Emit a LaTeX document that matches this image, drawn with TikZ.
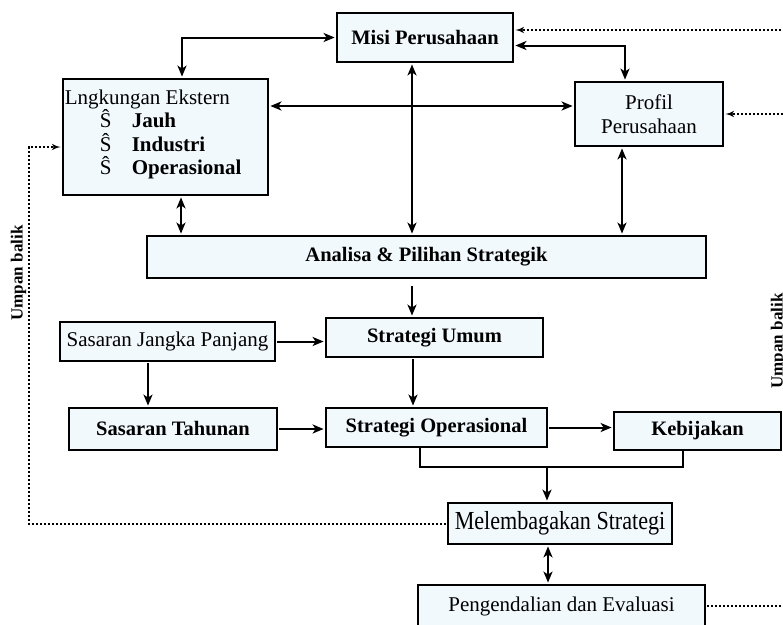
\documentclass[tikz,border=0pt]{standalone}
\usepackage{fontspec}
\setmainfont{Liberation Serif}
\usetikzlibrary{arrows,arrows.meta}
\definecolor{kotakbiru}{RGB}{242,249,253}
\newcommand{\tebal}{\fontsize{20.5}{23.5}\selectfont\bfseries}
\newcommand{\biasa}{\fontsize{21}{23.5}\selectfont}

\begin{document}
\begin{tikzpicture}[x=1pt,y=-1pt,>={Stealth[length=11pt,width=9pt,inset=3pt]},shorten >=1pt,shorten <=1pt,
  kotak/.style={draw,line width=2.8pt,fill=kotakbiru,inner sep=0pt,font=\tebal},
  panah/.style={line width=2pt},
  umpan/.style={dotted,line width=2pt}]
  \useasboundingbox (0,0) rectangle (783,624);
  \clip (0,0) rectangle (783,624);

  \node[kotak,minimum width=176pt,minimum height=49pt]  (misi)        at (425,37.5)  {Misi Perusahaan};
  \node[kotak,minimum width=205pt,minimum height=116pt] (lingkungan)  at (165.5,137) {};
  \node[kotak,minimum width=148pt,minimum height=64pt,align=center,font=\biasa] (profil) at (649,114) {Profil\\Perusahaan};
  \node[kotak,minimum width=559pt,minimum height=42pt]  (analisa)     at (426.5,257) {Analisa \& Pilihan Strategik};
  \node[kotak,minimum width=215pt,minimum height=39pt,font=\biasa] (sjp) at (167.5,341.5) {Sasaran Jangka Panjang};
  \node[kotak,minimum width=217pt,minimum height=39pt]  (umum)        at (434.5,337.5) {Strategi Umum};
  \node[kotak,minimum width=208pt,minimum height=42pt]  (tahunan)     at (173,429)   {Sasaran Tahunan};
  \node[kotak,minimum width=221pt,minimum height=39pt]  (operasional) at (436.5,427.5) {Strategi Operasional};
  \node[kotak,minimum width=167pt,minimum height=38pt]  (kebijakan)   at (697.5,431) {Kebijakan};
  \node[kotak,minimum width=224pt,minimum height=41pt,font=\mdseries] (lembaga) at (560,523.5)
       {\scalebox{0.85}[1]{\fontsize{26}{30}\selectfont Melembagakan Strategi}};
  \node[kotak,minimum width=287pt,minimum height=42pt,font=\biasa] (kendali) at (561.5,606) {Pengendalian dan Evaluasi};

  % isi lingkungan ekstern
  \node[anchor=north west,align=left,inner sep=0pt,font=\biasa] (ekstern)
       at ([xshift=3pt,yshift=-12pt]lingkungan.north west)
       {Lngkungan Ekstern\\
        \hspace*{35pt}\makebox[32pt][l]{Ŝ}\textbf{Jauh}\\
        \hspace*{35pt}\makebox[32pt][l]{Ŝ}\textbf{Industri}\\
        \hspace*{35pt}\makebox[32pt][l]{Ŝ}\textbf{Operasional}};

  \coordinate (gabung) at (547,467);
  \coordinate (kanan)  at (800,30);

  \draw[panah,<->] (misi.west) -| ([xshift=16.5pt]lingkungan.north);
  \draw[panah,<->] ([yshift=-8pt]misi.east) -| ([xshift=-24pt]profil.north);
  \draw[panah,<->] ([yshift=31pt]lingkungan.east) -- ([yshift=8pt]profil.west);
  \draw[panah,<->] ([xshift=-13pt]misi.south) -- ([xshift=-13pt]misi.south |- analisa.north);
  \draw[panah,<->] ([xshift=15.5pt]lingkungan.south) -- ([xshift=15.5pt]lingkungan.south |- analisa.north);
  \draw[panah,<->] ([xshift=-27pt]profil.south) -- ([xshift=-27pt]profil.south |- analisa.north);
  \draw[panah,->,shorten <=7pt] ([xshift=-14.5pt]analisa.south) -- ([xshift=-14.5pt]analisa.south |- umum.north);
  \draw[panah,->] (sjp.east) -- (sjp.east -| umum.west);
  \draw[panah,->] ([xshift=-19.5pt]sjp.south) -- ([xshift=-19.5pt]sjp.south |- tahunan.north);
  \draw[panah,->] ([xshift=-21.5pt]umum.south) -- ([xshift=-21.5pt]umum.south |- operasional.north);
  \draw[panah,->] (tahunan.east) -- (tahunan.east -| operasional.west);
  \draw[panah,->] (operasional.east) -- (operasional.east -| kebijakan.west);
  \draw[panah,shorten <=0pt,shorten >=0pt] ([xshift=-16.5pt]operasional.south) |- (gabung) -| ([xshift=-14.5pt]kebijakan.south);
  \draw[panah,->,shorten <=0pt] (gabung) -- (gabung |- lembaga.north);
  \draw[panah,<->] ([xshift=-12pt]lembaga.south) -- ([xshift=-12pt]lembaga.south |- kendali.north);

  % umpan balik
  \draw[umpan,->,>=latex'] (lembaga.west) -| ([xshift=-33pt,yshift=-10pt]lingkungan.west) -- ([yshift=-10pt]lingkungan.west);
  \draw[umpan,->,>=latex'] (kendali.east) -| (kanan) -- ([yshift=7.5pt]misi.east);
  \draw[umpan,->,>=latex'] (kanan |- profil.east) -- (profil.east);
  \node[rotate=90,font=\fontsize{17}{20}\selectfont\bfseries] (umpankiri)  at (18.5,273) {Umpan balik};
  \node[rotate=90,font=\fontsize{17}{20}\selectfont\bfseries] (umpankanan) at (778.5,341) {Umpan balik};
\end{tikzpicture}
\end{document}
